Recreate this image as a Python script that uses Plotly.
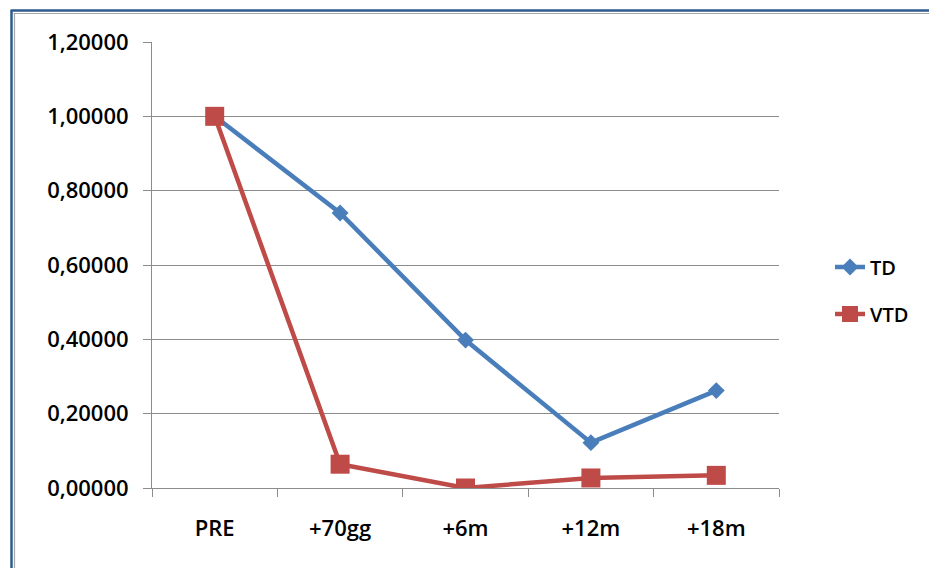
import plotly.graph_objects as go

# Time points and normalised values for the two series
categories = ["PRE", "+70gg", "+6m", "+12m", "+18m"]
td_values = [1.0, 0.74, 0.398, 0.122, 0.262]
vtd_values = [1.0, 0.064, 0.0, 0.027, 0.034]
y_ticks = [0.0, 0.2, 0.4, 0.6, 0.8, 1.0, 1.2]

W, H = 929, 568
L, R, T, B = 152, 150, 42, 80
PW, PH = W - L - R, H - T - B

BLUE = "#4A7EBB"
RED = "#BE4B48"
GRID = "#8C8C8C"
FONT = "Open Sans"


def px_x(p):
    return (p - L) / PW


def px_y(p):
    return 1 - (p - T) / PH


fig = go.Figure()
fig.add_trace(go.Scatter(
    x=categories, y=td_values, name="TD", mode="lines+markers",
    line=dict(color=BLUE, width=4.5),
    marker=dict(symbol="diamond", size=13, color=BLUE),
    legend="legend", showlegend=True,
))
fig.add_trace(go.Scatter(
    x=categories, y=vtd_values, name="VTD", mode="lines+markers",
    line=dict(color=RED, width=4.5),
    marker=dict(symbol="square", size=19, color=RED),
    legend="legend2", showlegend=True,
))

# Chart frame: dark blue outer line with a thin grey inner line
frame = []
for pos, color, width in [(10.5, "#2E5A8E", 2.5), (13.5, "#A6A6A6", 1.2)]:
    frame.append(dict(type="line", xref="paper", yref="paper",
                      x0=px_x(pos), x1=px_x(W + 5), y0=px_y(pos), y1=px_y(pos),
                      line=dict(color=color, width=width)))
    frame.append(dict(type="line", xref="paper", yref="paper",
                      x0=px_x(pos + 1), x1=px_x(pos + 1), y0=px_y(pos), y1=px_y(H + 5),
                      line=dict(color=color, width=width)))

tick_font = dict(size=22, family=FONT, color="#000000", weight=600)
legend_font = dict(size=20, family=FONT, color="#000000", weight=600)

fig.update_layout(
    width=W, height=H,
    margin=dict(l=L, r=R, t=T, b=B),
    paper_bgcolor="white", plot_bgcolor="white",
    separators=",.",
    font=dict(family=FONT, color="#000000"),
    showlegend=True,
    shapes=frame,
    xaxis=dict(
        type="category", range=[-0.5, 4.5],
        showgrid=False, showline=True, linecolor=GRID, linewidth=1,
        ticks="outside", tickson="boundaries", ticklen=8, tickcolor=GRID,
        tickfont=tick_font,
        ticklabelstandoff=21,
    ),
    yaxis=dict(
        range=[0, 1.2], tickvals=y_ticks, tickformat=".5f",
        showgrid=True, gridcolor=GRID, gridwidth=1,
        showline=True, linecolor=GRID, linewidth=1,
        ticks="outside", ticklen=8, tickcolor=GRID,
        tickfont=tick_font,
        ticklabelstandoff=10, zeroline=False,
    ),
    legend=dict(x=px_x(830), y=px_y(267), xanchor="left", yanchor="middle",
                font=legend_font, bgcolor="rgba(0,0,0,0)"),
    legend2=dict(x=px_x(830), y=px_y(314), xanchor="left", yanchor="middle",
                 font=legend_font, bgcolor="rgba(0,0,0,0)"),
)

fig.write_html("out.html")
